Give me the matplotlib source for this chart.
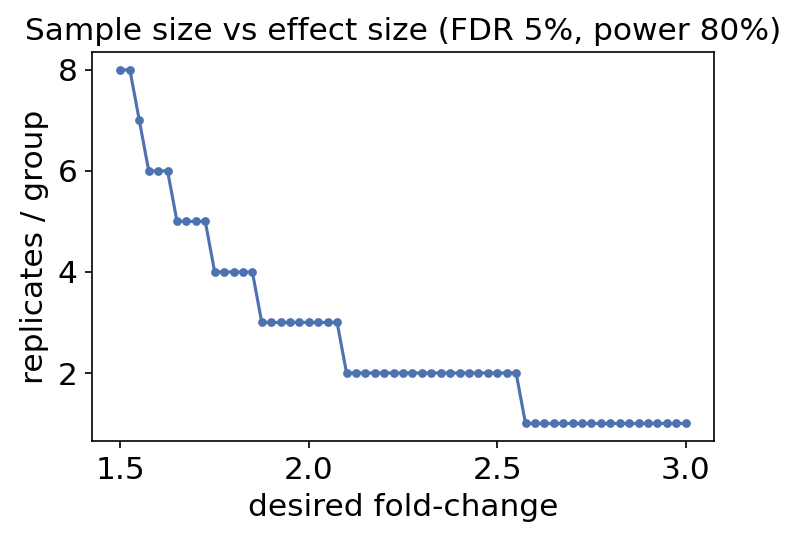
import numpy as np
import matplotlib
matplotlib.use("Agg")
import matplotlib.pyplot as plt

# fold-change grid from 1.5 to 3.0 in steps of 0.025
fold_change = np.round(np.arange(1.5, 3.0001, 0.025), 3)
replicates = ([8, 8, 7, 6, 6, 6, 5, 5, 5, 5, 4, 4, 4, 4, 4]
              + [3] * 9 + [2] * 19 + [1] * 18)

fig = plt.figure(figsize=(5.3, 3.627), dpi=150)
ax = fig.add_axes([0.116, 0.189, 0.782, 0.715])
ax.plot(fold_change, replicates, marker="o", markersize=3.2, color="#4C72B0", linewidth=1.5)
ax.set_title("Sample size vs effect size (FDR 5%, power 80%)", fontsize=15)
ax.set_xlabel("desired fold-change", fontsize=15)
ax.set_ylabel("replicates / group", fontsize=15)
ax.set_xticks([1.5, 2.0, 2.5, 3.0])
ax.set_yticks([2, 4, 6, 8])
ax.tick_params(labelsize=15)
fig.savefig("out.png", dpi=150)
